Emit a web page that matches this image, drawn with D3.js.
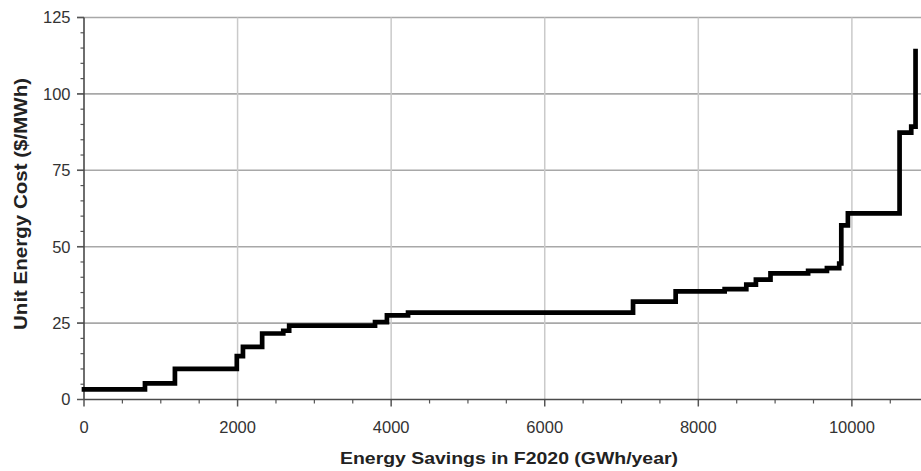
<!DOCTYPE html>
<html>
<head>
<meta charset="utf-8">
<script src="https://cdn.jsdelivr.net/npm/d3@7"></script>
<style>
  html, body { margin: 0; padding: 0; background: #fff; }
  svg { display: block; }
  text { font-family: "Liberation Sans", Arial, sans-serif; }
</style>
</head>
<body>
<svg id="chart" width="921" height="471"></svg>
<script>
// Cumulative energy savings (GWh/year) where each measure's cost step begins
const savingsGWh = [0, 794, 1184, 1990, 2070, 2320, 2595, 2672, 3790, 3945, 4220,
  7150, 7705, 8343, 8625, 8750, 8940, 9430, 9675, 9835, 9862, 9948, 10621, 10773, 10829];
// Unit energy cost ($/MWh) of each step
const costPerMWh = [3.3, 5.3, 10.0, 14.2, 17.2, 21.6, 22.5, 24.2, 25.3, 27.5, 28.4,
  32.0, 35.4, 36.1, 37.6, 39.2, 41.3, 42.1, 43.0, 44.5, 57.0, 60.9, 87.3, 89.3, 114.0];

const xMajorTicks = [0, 2000, 4000, 6000, 8000, 10000];
const yMajorTicks = [0, 25, 50, 75, 100, 125];

const svg = d3.select("#chart");
const W = 921;

const x = d3.scaleLinear().domain([0, 10900]).range([84, W]);
const y = d3.scaleLinear().domain([0, 125]).range([399.5, 17.5]);

// horizontal grid
svg.append("g").selectAll("line")
  .data(yMajorTicks.filter(d => d > 0))
  .join("line")
  .attr("x1", x(0) - 7).attr("x2", W)
  .attr("y1", d => y(d)).attr("y2", d => y(d))
  .attr("stroke", "#a8a8a8").attr("stroke-width", 1.6);

// vertical grid
svg.append("g").selectAll("line")
  .data(xMajorTicks.filter(d => d > 0))
  .join("line")
  .attr("x1", d => x(d)).attr("x2", d => x(d))
  .attr("y1", y(125)).attr("y2", y(0))
  .attr("stroke", "#cacaca").attr("stroke-width", 1.5);

// minor ticks
const yMinor = d3.range(5, 125, 5).filter(d => d % 25 !== 0);
svg.append("g").selectAll("line")
  .data(yMinor).join("line")
  .attr("x1", x(0) - 3.5).attr("x2", x(0))
  .attr("y1", d => y(d)).attr("y2", d => y(d))
  .attr("stroke", "#555").attr("stroke-width", 1.2);

const xMinor = d3.range(500, 10900, 500).filter(d => d % 2000 !== 0);
svg.append("g").selectAll("line")
  .data(xMinor).join("line")
  .attr("x1", d => x(d)).attr("x2", d => x(d))
  .attr("y1", y(0)).attr("y2", y(0) + 4)
  .attr("stroke", "#555").attr("stroke-width", 1.2);

// major ticks
svg.append("g").selectAll("line")
  .data(yMajorTicks).join("line")
  .attr("x1", x(0) - 7).attr("x2", x(0))
  .attr("y1", d => y(d)).attr("y2", d => y(d))
  .attr("stroke", "#555").attr("stroke-width", 1.5);
svg.append("g").selectAll("line")
  .data(xMajorTicks).join("line")
  .attr("x1", d => x(d)).attr("x2", d => x(d))
  .attr("y1", y(0)).attr("y2", y(0) + 7)
  .attr("stroke", "#555").attr("stroke-width", 1.5);

// axis lines
svg.append("line")
  .attr("x1", x(0)).attr("x2", x(0)).attr("y1", y(125)).attr("y2", y(0))
  .attr("stroke", "#4a4a4a").attr("stroke-width", 1.6);
svg.append("line")
  .attr("x1", x(0)).attr("x2", W).attr("y1", y(0)).attr("y2", y(0))
  .attr("stroke", "#4a4a4a").attr("stroke-width", 1.6);

// tick labels
svg.append("g").selectAll("text")
  .data(yMajorTicks).join("text")
  .attr("x", 70.5).attr("y", d => y(d) + 5.8)
  .attr("text-anchor", "end")
  .attr("font-size", 16.5)
  .attr("fill", "#333")
  .text(d => d);

svg.append("g").selectAll("text")
  .data(xMajorTicks).join("text")
  .attr("x", d => x(d)).attr("y", 433)
  .attr("text-anchor", "middle")
  .attr("font-size", 16.5)
  .attr("fill", "#333")
  .text(d => d);

// axis titles
svg.append("text")
  .attr("x", 509).attr("y", 463.5)
  .attr("text-anchor", "middle")
  .attr("font-size", 17).attr("font-weight", "bold")
  .attr("fill", "#222")
  .attr("textLength", 338).attr("lengthAdjust", "spacingAndGlyphs")
  .text("Energy Savings in F2020 (GWh/year)");

svg.append("text")
  .attr("transform", "translate(26.5,204) rotate(-90)")
  .attr("text-anchor", "middle")
  .attr("font-size", 19).attr("font-weight", "bold")
  .attr("fill", "#222")
  .attr("textLength", 252).attr("lengthAdjust", "spacingAndGlyphs")
  .text("Unit Energy Cost ($/MWh)");

// supply curve
const pts = savingsGWh.map((s, i) => [s, costPerMWh[i]]);
const line = d3.line()
  .x(d => x(d[0]))
  .y(d => y(d[1]))
  .curve(d3.curveStepAfter);

svg.append("path")
  .attr("d", line(pts))
  .attr("fill", "none")
  .attr("stroke", "#000")
  .attr("stroke-width", 4.7)
  .attr("stroke-linejoin", "miter")
  .attr("stroke-linecap", "square");
</script>
</body>
</html>
